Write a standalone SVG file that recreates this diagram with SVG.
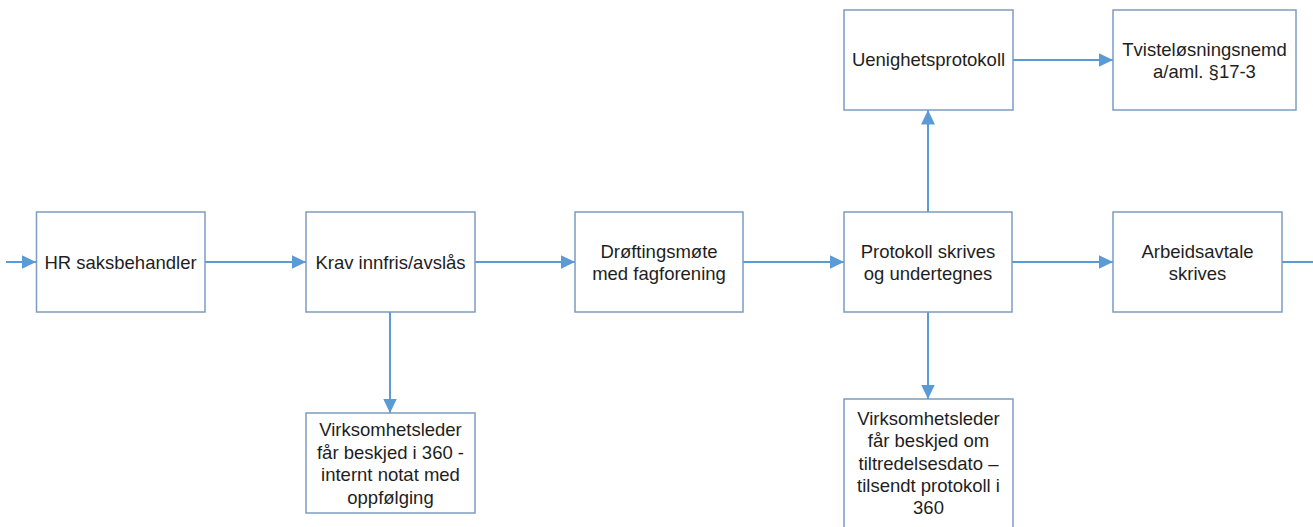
<svg xmlns="http://www.w3.org/2000/svg" width="1313" height="527" viewBox="0 0 1313 527">
<style>
.box{fill:#ffffff;stroke:#7d9cc0;stroke-width:1.5}
.t{font-family:"Liberation Sans",Arial,sans-serif;font-size:18.5px;fill:#1e1e1e;text-anchor:middle}
.c{stroke:#5b9bd5;stroke-width:2;fill:none}
.ca{stroke:#5b9bd5;stroke-width:2;fill:none;marker-end:url(#ah)}
</style>
<defs>
<marker id="ah" markerUnits="userSpaceOnUse" markerWidth="15" markerHeight="14" refX="14.5" refY="7" orient="auto">
<path d="M0,0 L14.5,7 L0,14 z" fill="#5b9bd5"/>
</marker>
</defs>
<rect width="1313" height="527" fill="#ffffff"/>
<g id="connectors">
<line class="ca" x1="6" y1="262" x2="36" y2="262"/>
<line class="ca" x1="205" y1="262" x2="306" y2="262"/>
<line class="ca" x1="475" y1="262" x2="575" y2="262"/>
<line class="ca" x1="743" y1="262" x2="844" y2="262"/>
<line class="ca" x1="1012" y1="262" x2="1113" y2="262"/>
<line class="c" x1="1282" y1="262" x2="1313" y2="262"/>
<line class="ca" x1="390" y1="312" x2="390" y2="413"/>
<line class="ca" x1="928" y1="212" x2="928" y2="110"/>
<line class="ca" x1="928" y1="312" x2="928" y2="399"/>
<line class="ca" x1="1013" y1="60" x2="1113" y2="60"/>
</g>
<g id="hr">
<rect class="box" x="36.5" y="212" width="168.5" height="100"/>
<text class="t" x="120.5" y="268.5">HR saksbehandler</text>
</g>
<g id="krav">
<rect class="box" x="306" y="212" width="169" height="100"/>
<text class="t" x="390.5" y="268.5">Krav innfris/avslås</text>
</g>
<g id="drofting">
<rect class="box" x="575" y="212" width="168" height="100"/>
<text class="t" x="659" y="257.5">Drøftingsmøte</text>
<text class="t" x="659" y="279.5">med fagforening</text>
</g>
<g id="protokoll">
<rect class="box" x="844" y="212" width="168" height="100"/>
<text class="t" x="928" y="257.5">Protokoll skrives</text>
<text class="t" x="928" y="279.5">og undertegnes</text>
</g>
<g id="arbeidsavtale">
<rect class="box" x="1113" y="212" width="169" height="100"/>
<text class="t" x="1197.5" y="257.5">Arbeidsavtale</text>
<text class="t" x="1197.5" y="279.5">skrives</text>
</g>
<g id="uenighet">
<rect class="box" x="844" y="10" width="169" height="100"/>
<text class="t" x="928.5" y="66">Uenighetsprotokoll</text>
</g>
<g id="tvist">
<rect class="box" x="1113" y="10" width="183" height="100"/>
<text class="t" x="1204.5" y="55.5">Tvisteløsningsnemd</text>
<text class="t" x="1204.5" y="77.5">a/aml. §17-3</text>
</g>
<g id="virksomhet1">
<rect class="box" x="306" y="413" width="169" height="100"/>
<text class="t" x="390.5" y="436">Virksomhetsleder</text>
<text class="t" x="390.5" y="458.5">får beskjed i 360 -</text>
<text class="t" x="390.5" y="481">internt notat med</text>
<text class="t" x="390.5" y="503.5">oppfølging</text>
</g>
<g id="virksomhet2">
<rect class="box" x="844" y="399" width="169" height="132"/>
<text class="t" x="928.5" y="424.5">Virksomhetsleder</text>
<text class="t" x="928.5" y="447">får beskjed om</text>
<text class="t" x="928.5" y="469.5">tiltredelsesdato –</text>
<text class="t" x="928.5" y="492">tilsendt protokoll i</text>
<text class="t" x="928.5" y="514">360</text>
</g>
</svg>
